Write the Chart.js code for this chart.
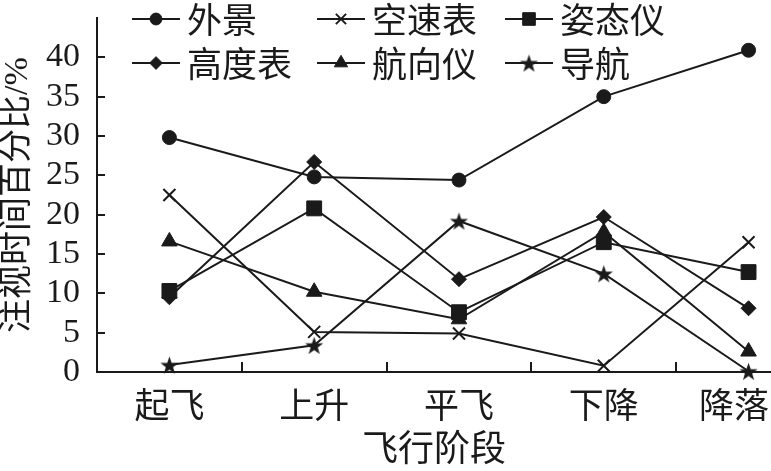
<!DOCTYPE html>
<html>
<head>
<meta charset="utf-8">
<script src="https://cdn.jsdelivr.net/npm/chart.js@4/dist/chart.umd.min.js"></script>
<style>
  html, body { margin: 0; padding: 0; background: #fff; overflow: hidden; }
  #wrap { width: 771px; height: 471px; position: relative; }
</style>
</head>
<body>
<div id="wrap"><canvas id="c" width="771" height="471"></canvas></div>
<script>
// ---- data ----
const categories = ['起飞', '上升', '平飞', '下降', '降落'];
const seriesNames = ['外景', '空速表', '姿态仪', '高度表', '航向仪', '导航'];
const waijing   = [29.8, 24.8, 24.4, 35.0, 40.9];
const kongsu    = [22.5, 5.1, 4.9, 0.8, 16.5];
const zitai     = [10.3, 20.8, 7.6, 16.5, 12.7];
const gaodu     = [9.5, 26.7, 11.8, 19.7, 8.1];
const hangxiang = [16.6, 10.2, 6.7, 17.8, 2.6];
const daohang   = [0.9, 3.4, 19.2, 12.5, 0.1];
const yTicks = [0, 5, 10, 15, 20, 25, 30, 35, 40];
const xTitle = '飞行阶段';
const yTitle = '注视时间百分比/%';

// ---- styles ----
const INK = '#1a1a1a';
const CJK = '"Noto Sans CJK SC", "Noto Sans CJK JP", sans-serif';
const SERIF = '"Liberation Serif", "DejaVu Serif", "Noto Sans CJK SC", serif';

function makeStar(r) {
  const s = Math.ceil(r * 2 + 2);
  const c = document.createElement('canvas');
  c.width = s; c.height = s;
  const g = c.getContext('2d');
  g.fillStyle = INK;
  g.beginPath();
  for (let i = 0; i < 10; i++) {
    const rr = (i % 2) ? r * 0.4 : r;
    const a = -Math.PI / 2 + i * Math.PI / 5;
    g.lineTo(s / 2 + rr * Math.cos(a), s / 2 + 1 + rr * Math.sin(a));
  }
  g.closePath();
  g.fill();
  return c;
}
const starImg = makeStar(9.5);

const seriesValues = [waijing, kongsu, zitai, gaodu, hangxiang, daohang];
const markerStyles = [
  { pointStyle: 'circle',   radius: 7,   bw: 1 },
  { pointStyle: 'crossRot', radius: 8.5, bw: 2 },
  { pointStyle: 'rect',     radius: 10.5, bw: 1 },
  { pointStyle: 'rectRot',  radius: 7.5, bw: 1 },
  { pointStyle: 'triangle', radius: 9,   bw: 1 },
  { pointStyle: starImg,    radius: 9,   bw: 0 }
];

const datasets = seriesNames.map((name, i) => ({
  label: name,
  data: seriesValues[i].map((v, j) => ({ x: j, y: v })),
  borderColor: INK,
  borderWidth: 2,
  backgroundColor: INK,
  pointStyle: markerStyles[i].pointStyle,
  pointRadius: markerStyles[i].radius,
  pointHoverRadius: markerStyles[i].radius,
  pointBackgroundColor: INK,
  pointBorderColor: INK,
  pointBorderWidth: markerStyles[i].bw,
  tension: 0,
  fill: false,
  clip: false
}));

// inward tick marks
const innerTicks = {
  id: 'innerTicks',
  afterDraw(chart) {
    const { ctx, chartArea, scales } = chart;
    ctx.save();
    ctx.strokeStyle = INK;
    ctx.lineWidth = 2;
    yTicks.forEach(v => {
      if (v === 0) return;
      const y = Math.round(scales.y.getPixelForValue(v));
      ctx.beginPath();
      ctx.moveTo(chartArea.left, y);
      ctx.lineTo(chartArea.left + 8, y);
      ctx.stroke();
    });
    for (let i = 0; i < categories.length - 1; i++) {
      const x = Math.round(scales.x.getPixelForValue(i + 0.5));
      ctx.beginPath();
      ctx.moveTo(x, chartArea.bottom);
      ctx.lineTo(x, chartArea.bottom - 10);
      ctx.stroke();
    }
    ctx.restore();
  }
};

// 3-column legend drawn inside the plot area
const gridLegend = {
  id: 'gridLegend',
  afterDraw(chart) {
    const { ctx, chartArea } = chart;
    const colX = [35, 220, 408];
    const rowY = [1, 45];
    ctx.save();
    chart.data.datasets.forEach((ds, i) => {
      const col = i % 3, row = Math.floor(i / 3);
      const x0 = chartArea.left + colX[col];
      const y = chartArea.top + rowY[row];
      ctx.strokeStyle = INK;
      ctx.fillStyle = INK;
      ctx.lineWidth = 2;
      ctx.beginPath();
      ctx.moveTo(x0, y);
      ctx.lineTo(x0 + 48, y);
      ctx.stroke();
      if (Chart.helpers && Chart.helpers.drawPoint) {
        ctx.lineWidth = markerStyles[i].bw || 1;
        Chart.helpers.drawPoint(ctx, {
          pointStyle: ds.pointStyle,
          radius: markerStyles[i].radius * 0.85,
          rotation: 0,
          borderWidth: markerStyles[i].bw
        }, x0 + 24, y);
      }
      ctx.fillStyle = INK;
      ctx.font = '35px ' + CJK;
      ctx.textAlign = 'left';
      ctx.textBaseline = 'middle';
      ctx.fillText(ds.label, x0 + 55, y + 1);
    });
    ctx.restore();
  }
};

new Chart(document.getElementById('c'), {
  type: 'line',
  data: { datasets },
  plugins: [innerTicks, gridLegend],
  options: {
    responsive: false,
    animation: false,
    layout: { autoPadding: false, padding: { top: 18, right: 0, bottom: 0, left: 0 } },
    plugins: {
      legend: { display: false },
      tooltip: { enabled: false }
    },
    scales: {
      x: {
        type: 'linear',
        min: -0.5,
        max: 4.155,
        // last label is pulled in slightly so it stays inside the canvas, as in the reference
        afterBuildTicks: s => {
          s.ticks = categories.map((c, i) => ({ value: i === categories.length - 1 ? i - 0.1 : i }));
        },
        afterFit: s => { s.height = 99; s.paddingLeft = 0; s.paddingRight = 0; },
        grid: { display: false, drawTicks: false },
        border: { display: true, color: INK, width: 2 },
        ticks: {
          autoSkip: false,
          maxRotation: 0,
          padding: 12,
          color: INK,
          font: { family: CJK, size: 35 },
          callback: v => categories[Math.round(v)]
        },
        title: {
          display: true,
          text: xTitle,
          color: INK,
          font: { family: CJK, size: 36, lineHeight: 1.2 },
          padding: { top: 0, bottom: 2 }
        }
      },
      y: {
        type: 'linear',
        min: 0,
        max: 45,
        afterBuildTicks: s => { s.ticks = yTicks.map(v => ({ value: v })); },
        afterFit: s => { s.width = 97; s.paddingTop = 0; s.paddingBottom = 0; },
        grid: { display: false, drawTicks: false },
        border: { display: true, color: INK, width: 2 },
        ticks: {
          padding: 17,
          color: INK,
          font: { family: SERIF, size: 34 }
        },
        title: {
          display: true,
          text: yTitle,
          color: INK,
          font: { family: SERIF, size: 34, lineHeight: 1.05 },
          padding: { top: 0, bottom: 0 }
        }
      }
    }
  }
});
</script>
</body>
</html>
